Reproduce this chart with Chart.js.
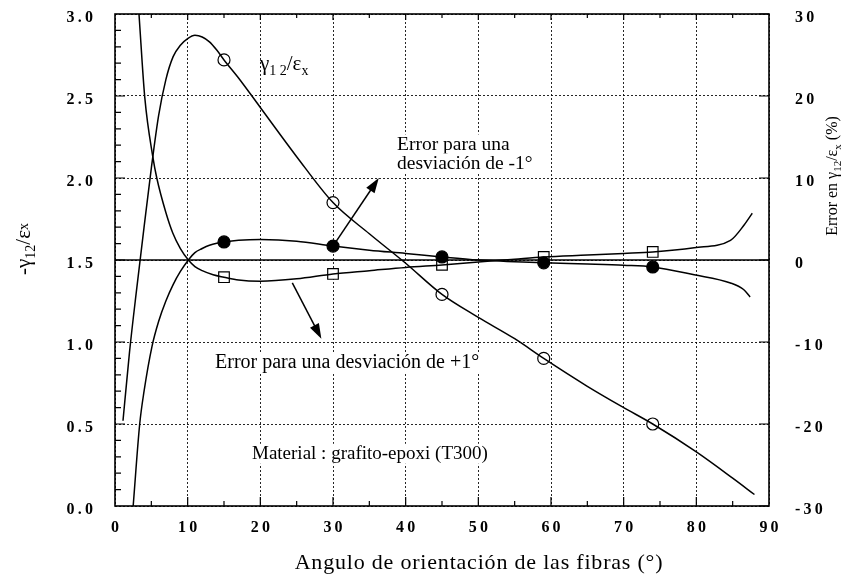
<!DOCTYPE html>
<html>
<head>
<meta charset="utf-8">
<script src="https://cdn.jsdelivr.net/npm/chart.js@4/dist/chart.umd.min.js"></script>
<style>
  html, body { margin: 0; padding: 0; background: #fff; }
  #wrap { width: 845px; height: 578px; }
</style>
</head>
<body>
<div id="wrap"><canvas id="chart" width="845" height="578"></canvas></div>
<script>
// gamma12 / eps_x curve (left axis)
const gamX = [1.1, 2, 3, 4, 5, 6, 7, 8, 9, 10, 11, 12, 13, 14, 15, 17, 20, 25, 30, 35, 40, 45, 50, 55, 59, 65, 70, 74, 80, 85, 88];
const gamY = [0.52, 0.94, 1.33, 1.70, 2.06, 2.38, 2.60, 2.74, 2.81, 2.85, 2.87, 2.86, 2.83, 2.78, 2.72, 2.61, 2.43, 2.13, 1.85, 1.66, 1.48, 1.29, 1.15, 1.02, 0.90, 0.73, 0.60, 0.50, 0.33, 0.17, 0.07];

// error for -1 deg deviation (right axis, %)
const errMinusX = [2.5, 3.4, 4, 5.1, 6, 7, 8, 9, 10.1, 11, 12, 13, 14, 15, 17, 20, 25, 30, 35, 40, 45, 50, 55, 59, 65, 70, 74, 79.7, 84.7, 86.5, 87.4];
const errMinusY = [-30, -20, -16, -10.5, -7.5, -5, -3, -1.4, 0, 0.9, 1.4, 1.8, 2.05, 2.2, 2.4, 2.5, 2.3, 1.7, 1.2, 0.8, 0.37, 0, -0.2, -0.35, -0.5, -0.65, -0.85, -1.8, -2.8, -3.6, -4.5];

// error for +1 deg deviation (right axis, %)
const errPlusX = [3.3, 4.1, 5.2, 5.75, 7, 7.95, 9, 10.1, 11, 12, 13.5, 15, 17, 20, 25, 30, 35, 40, 45, 50, 55, 59, 65, 70, 74, 79.7, 84.7, 86.6, 87.7];
const errPlusY = [30, 19.8, 12.6, 10, 5.8, 3.3, 1.4, 0, -0.8, -1.3, -1.8, -2.1, -2.45, -2.6, -2.3, -1.7, -1.3, -0.9, -0.6, -0.25, 0.1, 0.37, 0.6, 0.8, 0.98, 1.5, 2.4, 4.3, 5.7];

// marker positions
const markX = [15, 30, 45, 59, 74];
const gamMarks = [2.72, 1.85, 1.29, 0.90, 0.50];
const minusMarks = [2.2, 1.7, 0.37, -0.35, -0.85];
const plusMarks = [-2.1, -1.7, -0.6, 0.37, 0.98];

const zeroX = [0, 90];
const zeroY = [0, 0];

const xTicks = [0, 10, 20, 30, 40, 50, 60, 70, 80, 90];
const leftTicks = [0, 0.5, 1, 1.5, 2, 2.5, 3];
const rightTicks = [-30, -20, -10, 0, 10, 20, 30];

const SERIF = '"Liberation Serif", "DejaVu Serif", serif';
const spaced = (s) => s.split("").join("\u2009");
const pts = (xs, ys) => xs.map((x, i) => ({ x, y: ys[i] }));

function curve(data, axis) {
  return {
    data, yAxisID: axis, showLine: true, borderColor: "#000", borderWidth: 1.5,
    pointRadius: 0, cubicInterpolationMode: "monotone", fill: false,
  };
}
function marks(data, axis, style, filled) {
  return {
    data, yAxisID: axis, showLine: false, pointStyle: style,
    pointRadius: style === "rect" ? 7.5 : 6, pointBorderWidth: 1.2,
    pointBorderColor: "#000", pointBackgroundColor: filled ? "#000" : "#fff",
  };
}

function drawRuns(ctx, runs, x, y, align, spacing) {
  ctx.letterSpacing = (spacing || 0) + "px";
  let total = 0;
  runs.forEach((r) => { ctx.font = r.size + "px " + SERIF; total += ctx.measureText(r.t).width; });
  let cx = align === "center" ? x - total / 2 : x;
  ctx.textAlign = "left";
  ctx.textBaseline = "alphabetic";
  runs.forEach((r) => {
    ctx.font = r.size + "px " + SERIF;
    ctx.fillText(r.t, cx, y + (r.dy || 0));
    cx += ctx.measureText(r.t).width;
  });
  ctx.letterSpacing = "0px";
  return total;
}

function labelBox(ctx, text, x, y, size) {
  ctx.font = size + "px " + SERIF;
  const w = ctx.measureText(text).width;
  ctx.fillStyle = "#fff";
  ctx.fillRect(x - 2, y - size * 0.8, w + 4, size * 1.05);
  ctx.fillStyle = "#000";
  ctx.textAlign = "left";
  ctx.textBaseline = "alphabetic";
  ctx.fillText(text, x, y);
}

function arrow(ctx, x0, y0, x1, y1) {
  const a = Math.atan2(y1 - y0, x1 - x0);
  const L = 15, W = 5;
  ctx.beginPath();
  ctx.moveTo(x0, y0);
  ctx.lineTo(x1 - Math.cos(a) * L * 0.8, y1 - Math.sin(a) * L * 0.8);
  ctx.lineWidth = 1.5;
  ctx.stroke();
  ctx.beginPath();
  ctx.moveTo(x1, y1);
  ctx.lineTo(x1 - Math.cos(a) * L - Math.sin(a) * W, y1 - Math.sin(a) * L + Math.cos(a) * W);
  ctx.lineTo(x1 - Math.cos(a) * L + Math.sin(a) * W, y1 - Math.sin(a) * L - Math.cos(a) * W);
  ctx.closePath();
  ctx.fill();
}

const decor = {
  id: "decor",
  beforeDatasetsDraw(chart) {
    const ctx = chart.ctx;
    ctx.save();
    labelBox(ctx, "Error para una", 397, 150, 19.5);
    labelBox(ctx, "desviación de -1°", 397, 169, 19.5);
    labelBox(ctx, "Error para una desviación de +1°", 215, 368, 20);
    labelBox(ctx, "Material : grafito-epoxi (T300)", 252, 459, 19);
    ctx.fillStyle = "#000";
    drawRuns(ctx, [
      { t: "γ", size: 21 }, { t: "1 2", size: 14, dy: 5 }, { t: "/ε", size: 21 }, { t: "x", size: 14, dy: 5 },
    ], 260, 70, "left");
    ctx.restore();
  },
  afterDatasetsDraw(chart) {
    const { ctx, chartArea: ca, scales } = chart;
    const x = scales.x, yl = scales.yL, yr = scales.yR;
    ctx.save();
    ctx.strokeStyle = "#000";
    ctx.fillStyle = "#000";
    ctx.lineWidth = 1.2;
    ctx.beginPath();
    for (let v = 5; v < 90; v += 5) {
      const px = x.getPixelForValue(v);
      const major = v % 10 === 0;
      ctx.moveTo(px, ca.bottom); ctx.lineTo(px, ca.bottom - (major ? 9 : 5));
      ctx.moveTo(px, ca.top); ctx.lineTo(px, ca.top + (major ? 6 : 4));
    }
    for (let i = 1; i < 30; i++) {
      const py = yl.getPixelForValue(i / 10);
      ctx.moveTo(ca.left, py); ctx.lineTo(ca.left + (i % 5 === 0 ? 10 : 6), py);
    }
    rightTicks.forEach((v) => {
      const py = yr.getPixelForValue(v);
      ctx.moveTo(ca.right, py); ctx.lineTo(ca.right - 10, py);
    });
    ctx.stroke();
    ctx.lineWidth = 1.6;
    ctx.strokeRect(ca.left, ca.top, ca.right - ca.left, ca.bottom - ca.top);

    // arrows
    arrow(ctx, x.getPixelForValue(30), yl.getPixelForValue(1.585), x.getPixelForValue(36.3), yl.getPixelForValue(2.0));
    arrow(ctx, x.getPixelForValue(24.4), yl.getPixelForValue(1.36), x.getPixelForValue(28.4), yl.getPixelForValue(1.02));

    // axis titles
    drawRuns(ctx, [{ t: "Angulo de orientación de las fibras (°)", size: 22 }], 479, 569, "center", 0.8);
    ctx.translate(30, 249);
    ctx.rotate(-Math.PI / 2);
    drawRuns(ctx, [
      { t: "-γ", size: 21 }, { t: "12", size: 14, dy: 5 }, { t: "/ε", size: 21 }, { t: "x", size: 14, dy: -2 },
    ], 0, 0, "center");
    ctx.setTransform(1, 0, 0, 1, 0, 0);
    ctx.translate(837, 176);
    ctx.rotate(-Math.PI / 2);
    drawRuns(ctx, [
      { t: "Error en γ", size: 16 }, { t: "12", size: 11, dy: 4 }, { t: "/ε", size: 16 }, { t: "x", size: 11, dy: 4 }, { t: " (%)", size: 16 },
    ], 0, 0, "center");
    ctx.restore();
  },
};

const gridStyle = { color: "rgba(0,0,0,0.85)", lineWidth: 1, drawTicks: false };
const tickFont = { family: SERIF, size: 16, weight: "bold" };
const noPadV = (s) => { s.paddingTop = 0; s.paddingBottom = 0; };

new Chart(document.getElementById("chart"), {
  type: "scatter",
  data: {
    datasets: [
      curve(pts(zeroX, zeroY), "yR"),
      curve(pts(gamX, gamY), "yL"),
      curve(pts(errMinusX, errMinusY), "yR"),
      curve(pts(errPlusX, errPlusY), "yR"),
      marks(pts(markX, gamMarks), "yL", "circle", false),
      marks(pts(markX, minusMarks), "yR", "circle", true),
      marks(pts(markX, plusMarks), "yR", "rect", false),
    ],
  },
  options: {
    responsive: false,
    animation: false,
    layout: { padding: { top: 14, left: 0, right: 0, bottom: 0 } },
    plugins: { legend: { display: false }, tooltip: { enabled: false } },
    scales: {
      x: {
        type: "linear", min: 0, max: 90,
        afterFit: (s) => { s.height = 72; s.paddingLeft = 0; s.paddingRight = 0; },
        afterBuildTicks: (s) => { s.ticks = xTicks.map((v) => ({ value: v })); },
        ticks: { color: "#000", font: tickFont, padding: 12, maxRotation: 0, callback: (v) => spaced(String(v)) },
        grid: gridStyle,
        border: { display: false, dash: [2, 2] },
      },
      yL: {
        type: "linear", position: "left", min: 0, max: 3,
        afterFit: (s) => { s.width = 115; noPadV(s); },
        afterBuildTicks: (s) => { s.ticks = leftTicks.map((v) => ({ value: v })); },
        ticks: { color: "#000", font: tickFont, padding: 22, labelOffset: 4, callback: (v) => spaced(Number(v).toFixed(1)) },
        grid: gridStyle,
        border: { display: false, dash: [2, 2] },
      },
      yR: {
        type: "linear", position: "right", min: -30, max: 30,
        afterFit: (s) => { s.width = 76; noPadV(s); },
        afterBuildTicks: (s) => { s.ticks = rightTicks.map((v) => ({ value: v })); },
        ticks: { color: "#000", font: tickFont, padding: 18, labelOffset: 4, callback: (v) => spaced(String(v)) },
        grid: { display: false },
        border: { display: false },
      },
    },
  },
  plugins: [decor],
});
</script>
</body>
</html>
